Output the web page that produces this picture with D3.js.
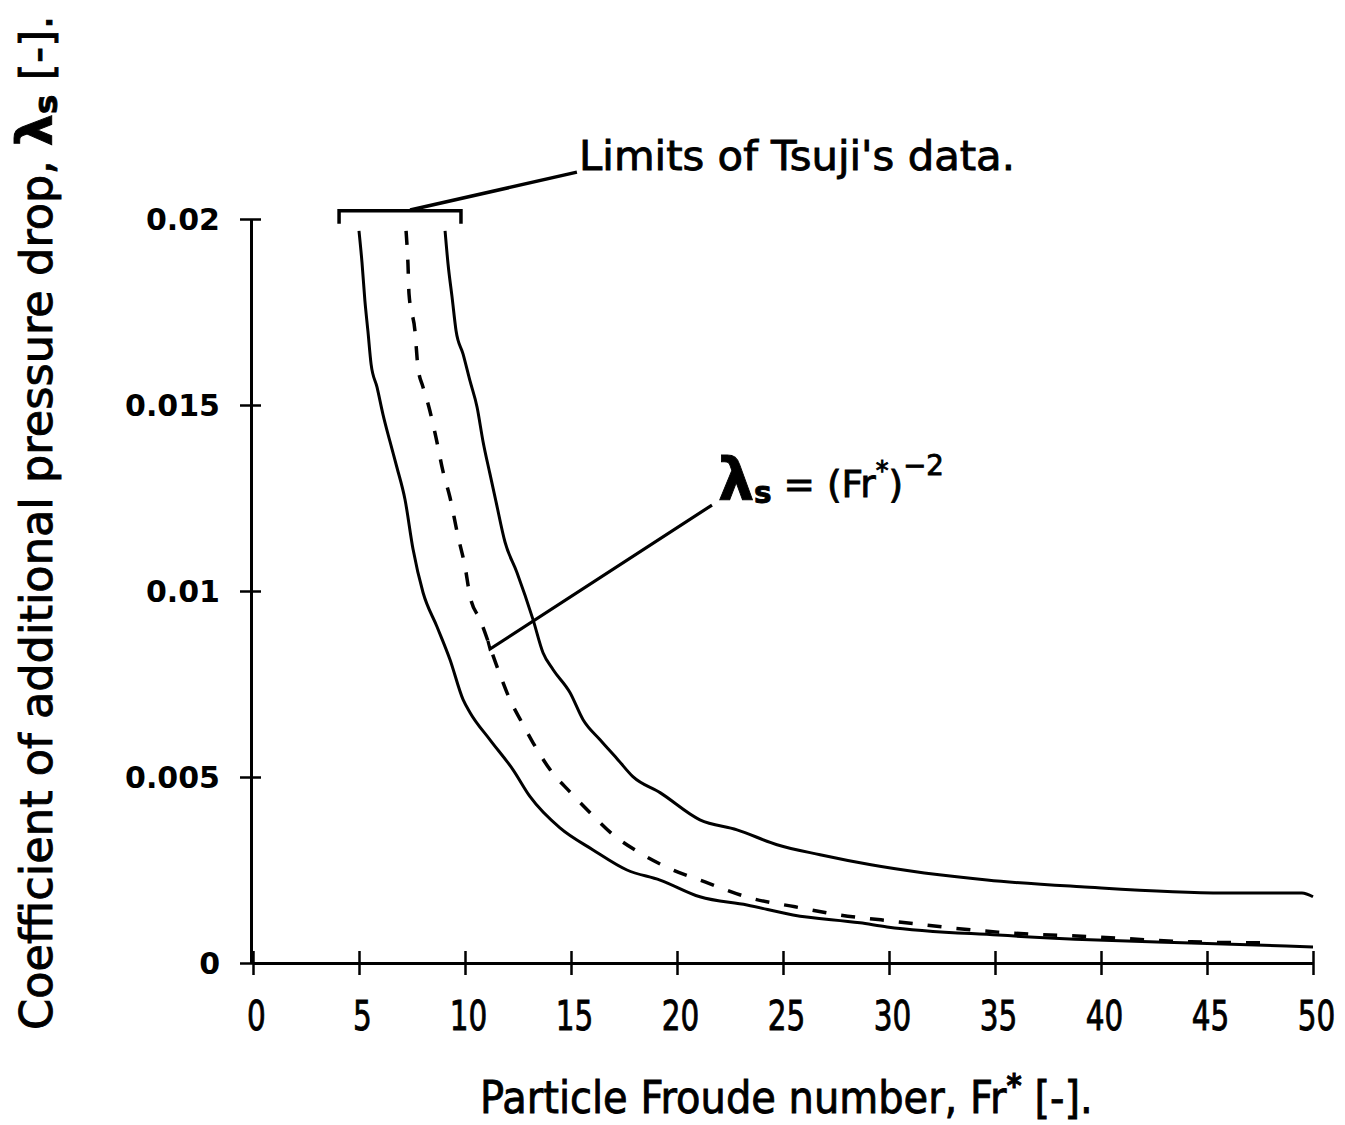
<!DOCTYPE html>
<html>
<head>
<meta charset="utf-8">
<script src="https://cdn.jsdelivr.net/npm/d3@7"></script>
<style>
  body { margin: 0; background: #fff; }
  svg text { font-family: "DejaVu Sans", sans-serif; fill: #000; }
  svg text.heavy { stroke: #000; stroke-width: 0.9px; }
</style>
</head>
<body>
<svg id="chart" width="1345" height="1125"></svg>
<script>
// Lower bound of the data band
const lowerFr = [5.00, 5.14, 5.28, 5.42, 5.57, 5.85, 6.13, 6.46, 6.79, 7.17, 7.55, 8.02, 8.68, 9.29, 9.91, 10.24,
  11.18, 12.26, 13.07, 14.48, 16.04, 17.64, 19.20, 21.08, 23.30, 25.47, 28.63, 29.91, 35.14, 39.81, 44.25, 50.00];
const lowerLambda = [0.01968, 0.01884, 0.01779, 0.01699, 0.01610, 0.01548, 0.01475, 0.01402, 0.01332, 0.01246,
  0.01112, 0.00996, 0.00904, 0.00816, 0.00708, 0.00673, 0.00600, 0.00520, 0.00447, 0.00363, 0.00304, 0.00250,
  0.00223, 0.00178, 0.00156, 0.00129, 0.00108, 0.00097, 0.00075, 0.00062, 0.00054, 0.00043];

// λs = (Fr*)^-2 (dashed)
const powerFr = [7.22, 7.31, 7.36, 7.64, 7.78, 8.02, 8.30, 8.63, 8.96, 9.29, 9.67, 10.00, 10.24, 10.71, 11.56,
  12.12, 12.69, 13.21, 14.01, 14.95, 15.90, 16.98, 18.16, 19.58, 21.32, 23.44, 25.57, 27.69, 29.62, 35.14,
  39.81, 44.25, 47.90];
const powerLambda = [0.01968, 0.01879, 0.01798, 0.01699, 0.01602, 0.01548, 0.01494, 0.01413, 0.01322, 0.01252,
  0.01147, 0.01066, 0.00985, 0.00923, 0.00789, 0.00708, 0.00646, 0.00592, 0.00520, 0.00460, 0.00404, 0.00345,
  0.00299, 0.00256, 0.00218, 0.00175, 0.00151, 0.00129, 0.00116, 0.00083, 0.00070, 0.00057, 0.00054];

// Upper bound of the data band
const upperFr = [9.06, 9.20, 9.39, 9.58, 9.91, 10.24, 10.57, 10.85, 11.18, 11.46, 11.89, 12.45, 13.21, 13.68,
  14.15, 14.95, 15.57, 16.37, 17.22, 17.92, 19.20, 21.08, 22.83, 24.72, 26.75, 29.15, 34.62, 39.06, 45.80,
  49.48, 50.00];
const upperLambda = [0.01968, 0.01879, 0.01790, 0.01699, 0.01637, 0.01564, 0.01494, 0.01402, 0.01314, 0.01241,
  0.01131, 0.01050, 0.00923, 0.00834, 0.00789, 0.00727, 0.00654, 0.00600, 0.00546, 0.00501, 0.00458, 0.00385,
  0.00358, 0.00318, 0.00291, 0.00264, 0.00223, 0.00205, 0.00188, 0.00188, 0.00178];

// Axis ticks
const xTicks = [0, 5, 10, 15, 20, 25, 30, 35, 40, 45, 50];
const yTicks = [0, 0.005, 0.01, 0.015, 0.02];
const yTickLabels = ["0", "0.005", "0.01", "0.015", "0.02"];

// Range of Tsuji's data (Fr*) and its callout
const tsujiFr = [4.06, 9.81];
const tsujiLevel = [0.01987, 0.02022];
const tsujiLeaderFr = [7.41, 15.28];
const tsujiLeaderLambda = [0.02024, 0.02126];
const tsujiLabelAt = [15.38, 0.02132];

// Callout for the power-law line
const powerLeaderFr = [11.08, 11.18, 21.65];
const powerLeaderLambda = [0.00866, 0.00844, 0.01231];
const powerLabelAt = [21.93, 0.01253];

const svg = d3.select("#chart");

const x = d3.scaleLinear().domain([0, 50]).range([253, 1313]);
const y = d3.scaleLinear().domain([0, 0.02]).range([963, 219]);

// squeeze/stretch a text node horizontally so it spans the given width
function fitWidth(text, width) {
  const w = text.node().getBBox().width;
  const prev = text.attr("transform") || "";
  text.attr("transform", `${prev} scale(${width / w},1)`);
}

// ---- axes ----
const xAxis = svg.append("g")
  .attr("transform", `translate(0,${y(0)})`)
  .call(d3.axisBottom(x).tickValues(xTicks).tickSizeOuter(0).tickFormat(d3.format("d")));
xAxis.select(".domain").attr("stroke", "#000").attr("stroke-width", 3);
xAxis.selectAll(".tick line").attr("stroke", "#000").attr("stroke-width", 2.5).attr("y1", -12).attr("y2", 12);
xAxis.selectAll(".tick text")
  .attr("class", "heavy")
  .attr("y", 0).attr("dy", null)
  .attr("font-size", 41)
  .attr("font-family", "DejaVu Sans")
  .attr("transform", "translate(3,67) scale(0.72,1)");

const yAxis = svg.append("g")
  .attr("transform", `translate(${x(0) - 2},0)`)
  .call(d3.axisLeft(y).tickValues(yTicks).tickSizeOuter(0).tickFormat((d, i) => yTickLabels[i]));
yAxis.select(".domain").attr("stroke", "#000").attr("stroke-width", 3);
yAxis.selectAll(".tick line").attr("stroke", "#000").attr("stroke-width", 2.5).attr("x1", -11).attr("x2", 10);
yAxis.selectAll(".tick text")
  .attr("x", -31).attr("dy", "0.36em")
  .attr("font-size", 30)
  .attr("font-weight", "bold");

// ---- curves ----
const line = d3.line().x(d => x(d[0])).y(d => y(d[1])).curve(d3.curveMonotoneX);
const series = [
  { fr: lowerFr, lam: lowerLambda, dash: null, w: 3 },
  { fr: upperFr, lam: upperLambda, dash: null, w: 3 },
  { fr: powerFr, lam: powerLambda, dash: "14,15", w: 3.5 }
];
series.forEach(s => {
  svg.append("path")
    .datum(d3.zip(s.fr, s.lam))
    .attr("d", line)
    .attr("fill", "none")
    .attr("stroke", "#000")
    .attr("stroke-width", s.w)
    .attr("stroke-dasharray", s.dash)
    .attr("stroke-linejoin", "round");
});

// ---- Tsuji bracket and callout ----
const plain = d3.line().x(d => x(d[0])).y(d => y(d[1]));
svg.append("path")
  .datum([[tsujiFr[0], tsujiLevel[0]], [tsujiFr[0], tsujiLevel[1]], [tsujiFr[1], tsujiLevel[1]], [tsujiFr[1], tsujiLevel[0]]])
  .attr("d", plain)
  .attr("fill", "none").attr("stroke", "#000").attr("stroke-width", 3.5);
svg.append("path")
  .datum(d3.zip(tsujiLeaderFr, tsujiLeaderLambda))
  .attr("d", plain)
  .attr("fill", "none").attr("stroke", "#000").attr("stroke-width", 3.5);

const tsujiText = svg.append("g")
  .attr("transform", `translate(${x(tsujiLabelAt[0])},${y(tsujiLabelAt[1])})`)
  .append("text")
  .attr("class", "heavy")
  .attr("font-size", 41)
  .text("Limits of Tsuji's data.");
fitWidth(tsujiText, 436);

// ---- power-law callout ----
svg.append("path")
  .datum(d3.zip(powerLeaderFr, powerLeaderLambda))
  .attr("d", plain)
  .attr("fill", "none").attr("stroke", "#000").attr("stroke-width", 3.2);

const powerText = svg.append("g")
  .attr("transform", `translate(${x(powerLabelAt[0])},${y(powerLabelAt[1])})`)
  .append("text")
  .attr("class", "heavy")
  .attr("font-size", 38);
powerText.append("tspan").attr("font-size", 58).attr("font-weight", "bold").attr("dy", 3).text("λ");
powerText.append("tspan").attr("font-size", 30).attr("font-weight", "bold").attr("dy", 3).text("s");
powerText.append("tspan").attr("dy", -6).text(" = (Fr");
powerText.append("tspan").attr("font-size", 26).attr("dy", -17).text("*");
powerText.append("tspan").attr("dy", 17).text(")");
powerText.append("tspan").attr("font-size", 28).attr("dy", -22).text("−2");
fitWidth(powerText, 226);

// ---- axis titles ----
const xTitle = svg.append("g")
  .attr("transform", "translate(480,1113)")
  .append("text")
  .attr("class", "heavy")
  .attr("font-size", 44);
xTitle.append("tspan").text("Particle Froude number, Fr");
xTitle.append("tspan").attr("font-size", 32).attr("font-weight", "bold").attr("dy", -17).text("*");
xTitle.append("tspan").attr("dy", 17).text(" [-].");
fitWidth(xTitle, 613);

const yTitle = svg.append("g")
  .attr("transform", "translate(52,1030) rotate(-90)")
  .append("text")
  .attr("class", "heavy")
  .attr("font-size", 44);
yTitle.append("tspan").text("Coefficient of additional pressure drop, ");
yTitle.append("tspan").attr("font-weight", "bold").attr("font-size", 50).text("λ");
yTitle.append("tspan").attr("font-weight", "bold").attr("font-size", 32).attr("dy", 5).text("s");
yTitle.append("tspan").attr("dy", -5).text(" [-].");
fitWidth(yTitle, 1015);
</script>
</body>
</html>
